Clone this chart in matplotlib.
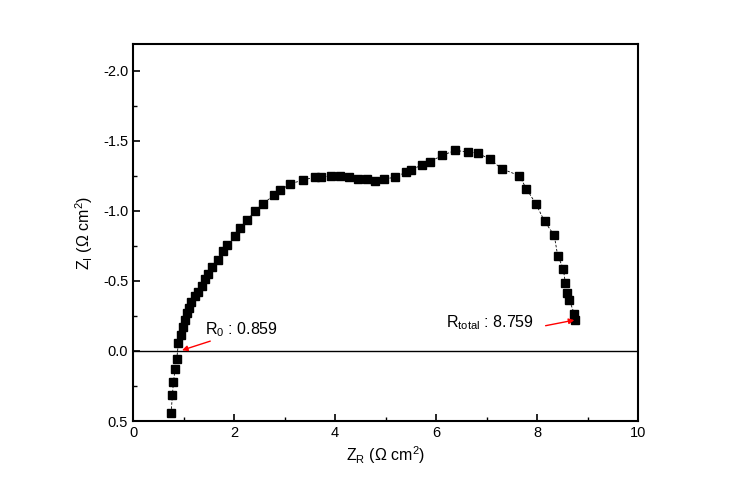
import numpy as np
import matplotlib
matplotlib.use('Agg')
from matplotlib import pyplot as plt
from matplotlib.ticker import MultipleLocator, FormatStrFormatter

plt.rcParams['font.family'] = ['Liberation Sans', 'DejaVu Sans']
plt.rcParams['mathtext.fontset'] = 'custom'
plt.rcParams['mathtext.rm'] = 'Liberation Sans'
plt.rcParams['mathtext.it'] = 'Liberation Sans:italic'

# impedance data (Ohm cm^2)
z_real = [0.754, 0.78, 0.80, 0.833, 0.866, 0.90, 0.946, 0.985, 1.02, 1.065,
          1.10, 1.15, 1.22, 1.28, 1.36, 1.43, 1.49, 1.56, 1.68, 1.79,
          1.87, 2.01, 2.12, 2.26, 2.41, 2.57, 2.79, 2.92, 3.10, 3.37,
          3.61, 3.72, 3.92, 4.09, 4.27, 4.46, 4.64, 4.79, 4.98, 5.19,
          5.41, 5.51, 5.72, 5.88, 6.12, 6.38, 6.64, 6.83, 7.06, 7.30,
          7.65, 7.79, 7.98, 8.15, 8.34, 8.41, 8.52, 8.56, 8.60, 8.64,
          8.74, 8.76]
z_imag = [0.443, 0.317, 0.224, 0.131, 0.057, -0.06, -0.117, -0.174, -0.22, -0.27,
          -0.305, -0.35, -0.39, -0.42, -0.46, -0.51, -0.55, -0.60, -0.65, -0.71,
          -0.755, -0.82, -0.876, -0.935, -0.995, -1.05, -1.11, -1.145, -1.19, -1.22,
          -1.24, -1.24, -1.25, -1.25, -1.24, -1.226, -1.226, -1.21, -1.226, -1.24,
          -1.276, -1.288, -1.33, -1.35, -1.395, -1.43, -1.42, -1.41, -1.37, -1.30,
          -1.25, -1.157, -1.048, -0.924, -0.826, -0.68, -0.588, -0.488, -0.41, -0.364,
          -0.264, -0.22]

r0 = 0.859
r_total = 8.759

fig = plt.figure(figsize=(7.41, 4.87), dpi=100)
ax = fig.add_axes([0.1795, 0.1355, 0.6815, 0.7742])

ax.plot(z_real, z_imag, color='black', linestyle='--', linewidth=0.6, dashes=(3, 2),
        marker='s', markersize=5.2, markerfacecolor='black', markeredgecolor='black')
ax.axhline(0, color='black', linewidth=1.0)

ax.set_xlim(0, 10)
ax.set_ylim(0.5, -2.19)
ax.xaxis.set_major_locator(MultipleLocator(2))
ax.xaxis.set_minor_locator(MultipleLocator(1))
ax.yaxis.set_major_locator(MultipleLocator(0.5))
ax.yaxis.set_minor_locator(MultipleLocator(0.25))
ax.yaxis.set_major_formatter(FormatStrFormatter('%.1f'))
ax.tick_params(which='both', direction='in', top=False, right=False, labelsize=10.5)
ax.tick_params(which='major', length=5, width=1.2)
ax.tick_params(which='minor', length=3, width=1.0)
for s in ax.spines.values():
    s.set_linewidth(1.5)

ax.set_xlabel(r'Z$_{\mathrm{R}}$ ($\Omega$ cm$^{2}$)', fontsize=11.5, labelpad=3)
ax.set_ylabel(r'Z$_{\mathrm{I}}$ ($\Omega$ cm$^{2}$)', fontsize=11.5, labelpad=6)

arrow = dict(arrowstyle='-|>', color='red', lw=1.0, mutation_scale=8,
             shrinkA=0, shrinkB=0)
ax.text(1.43, -0.15, r'R$_0$ : %.3f' % r0, fontsize=11.5, va='center', ha='left')
ax.annotate('', xy=(0.97, -0.005), xytext=(1.53, -0.07), arrowprops=arrow)
ax.text(6.2, -0.2, r'R$_{\mathrm{total}}$ : %.3f' % r_total, fontsize=11.5,
        va='center', ha='left')
ax.annotate('', xy=(8.74, -0.22), xytext=(8.17, -0.18), arrowprops=arrow)

fig.savefig('out.png', dpi=100)
